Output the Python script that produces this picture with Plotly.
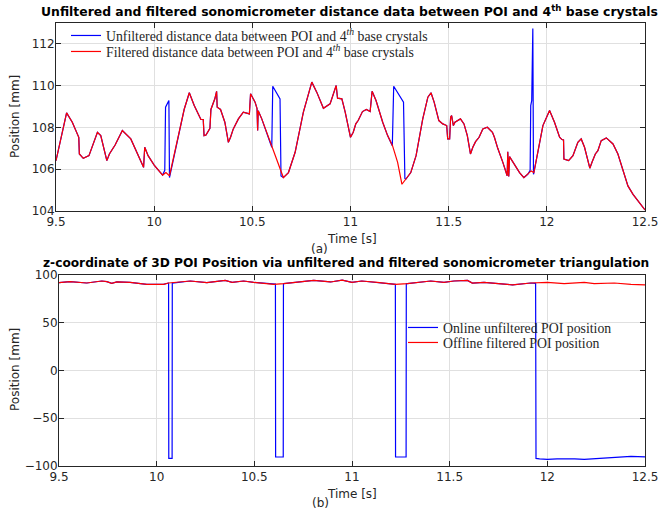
import plotly.graph_objects as go

# ---------------- panel (a): distance data ----------------
t_filt = [9.500, 9.554, 9.583, 9.609, 9.616, 9.619, 9.639, 9.668, 9.711, 9.728, 9.759, 9.772,
          9.787, 9.801, 9.838, 9.881, 9.946, 9.952, 9.969, 10.000, 10.043, 10.060, 10.078, 10.102,
          10.128, 10.153, 10.179, 10.204, 10.238, 10.250, 10.254, 10.264, 10.284, 10.289, 10.309,
          10.318, 10.321, 10.338, 10.360, 10.378, 10.389, 10.403, 10.429, 10.454, 10.485, 10.491,
          10.514, 10.524, 10.527, 10.530, 10.548, 10.573, 10.599, 10.621, 10.641, 10.658, 10.684,
          10.718, 10.760, 10.803, 10.828, 10.862, 10.896, 10.927, 10.934, 10.956, 10.973, 11.000,
          11.014, 11.027, 11.039, 11.061, 11.081, 11.100, 11.110, 11.130, 11.164, 11.189, 11.214,
          11.240, 11.262, 11.282, 11.307, 11.334, 11.368, 11.394, 11.410, 11.426, 11.450, 11.470,
          11.490, 11.495, 11.505, 11.510, 11.515, 11.524, 11.532, 11.560, 11.578, 11.595, 11.611,
          11.623, 11.637, 11.655, 11.674, 11.697, 11.723, 11.733, 11.750, 11.776, 11.793, 11.798,
          11.801, 11.806, 11.810, 11.835, 11.861, 11.883, 11.903, 11.920, 11.934, 11.954, 11.980,
          12.014, 12.039, 12.065, 12.077, 12.085, 12.087, 12.111, 12.133, 12.158, 12.175, 12.192,
          12.219, 12.230, 12.247, 12.260, 12.277, 12.303, 12.337, 12.362, 12.388, 12.413, 12.439,
          12.464, 12.495, 12.500]
d_filt = [106.41, 108.70, 108.25, 107.61, 107.53, 106.73, 106.52, 106.65, 107.77, 107.61, 106.41, 106.73,
          106.97, 107.16, 107.85, 107.45, 106.09, 107.05, 106.65, 106.20, 105.72, 105.84, 105.68, 106.65,
          107.77, 108.87, 109.66, 109.05, 108.38, 108.38, 107.61, 107.64, 107.96, 108.86, 109.37,
          109.73, 108.97, 108.86, 108.25, 107.29, 107.53, 107.93, 108.41, 108.73, 108.65, 109.61,
          109.21, 108.90, 107.85, 108.80, 108.41, 107.77, 107.05, 106.57, 106.00, 105.60, 105.84,
          106.81, 108.73, 110.17, 109.69, 108.92, 109.13, 110.01, 109.40, 109.37, 108.73, 107.53,
          107.77, 108.17, 108.33, 108.76, 108.86, 108.76, 109.73, 109.29, 108.25, 107.61, 107.13,
          106.33, 105.28, 105.52, 105.84, 106.65, 108.41, 109.45, 109.66, 109.21, 108.33, 108.17,
          108.09, 107.45, 107.45, 108.49, 108.57, 108.09, 108.25, 108.41, 108.17, 107.61, 106.73,
          107.05, 107.32, 107.53, 107.93, 108.01, 107.77, 107.53, 107.00, 106.33, 105.88, 105.69,
          106.84, 105.65, 106.60, 106.25, 105.84, 105.60, 105.76, 105.92, 105.84, 106.81, 108.09,
          108.81, 108.25, 107.53, 107.42, 107.40, 106.49, 106.41, 106.65, 107.29, 107.45, 107.05,
          106.05, 106.33, 106.73, 106.89, 107.37, 107.50, 107.21, 106.73, 106.00, 105.20, 104.80,
          104.48, 104.08, 104.05]

# unfiltered outlier segments (elsewhere unfiltered == filtered)
spike_t = [[10.054, 10.058, 10.068, 10.075, 10.078],
           [10.599, 10.604, 10.641, 10.646],
           [11.213, 11.220, 11.270, 11.277],
           [11.915, 11.918, 11.923, 11.9286, 11.932]]
spike_d = [[105.95, 108.97, 109.13, 109.29, 105.60],
           [107.05, 109.97, 109.37, 105.68],
           [107.13, 109.97, 109.21, 105.56],
           [105.95, 109.05, 109.29, 112.74, 105.76]]

# ---------------- panel (b): z-coordinate ----------------
t_zf = [9.500, 9.556, 9.642, 9.719, 9.745, 9.770, 9.796, 9.864, 9.950, 10.035, 10.060, 10.172,
        10.257, 10.351, 10.386, 10.445, 10.497, 10.600, 10.650, 10.804, 10.890, 10.950, 11.000,
        11.050, 11.129, 11.223, 11.283, 11.403, 11.471, 11.522, 11.591, 11.616, 11.676, 11.822,
        11.915, 12.000, 12.086, 12.189, 12.240, 12.343, 12.428, 12.500]
z_f = [92.0, 93.0, 91.6, 93.7, 93.0, 91.3, 92.7, 92.3, 90.2, 90.2, 91.6, 93.7,
       92.0, 94.4, 92.3, 93.7, 92.3, 90.2, 90.9, 94.4, 92.7, 94.6, 92.3,
       93.7, 92.3, 90.2, 90.9, 93.7, 92.3, 93.7, 94.4, 91.6, 92.3, 89.6,
       91.6, 92.3, 90.9, 92.3, 90.9, 91.6, 90.2, 89.6]

drop_t = [[10.061, 10.062, 10.079, 10.080],
          [10.608, 10.609, 10.648, 10.649],
          [11.222, 11.223, 11.277, 11.278],
          [11.940, 11.942, 11.960, 12.000, 12.050, 12.086, 12.140, 12.189, 12.240, 12.300,
           12.343, 12.428, 12.500]]
drop_z = [[91.5, -92.0, -92.0, 91.5],
          [90.4, -90.6, -90.6, 90.8],
          [90.2, -90.6, -90.6, 91.0],
          [91.3, -92.0, -92.5, -93.0, -92.6, -92.3, -92.6, -93.0, -92.3, -91.6,
           -90.9, -89.9, -90.4]]


def merge(base_t, base_v, seg_t, seg_v):
    pts = [(t, v) for t, v in zip(base_t, base_v)
           if not any(s[0] <= t <= s[-1] for s in seg_t)]
    for st, sv in zip(seg_t, seg_v):
        pts.extend(zip(st, sv))
    pts.sort()
    return [p[0] for p in pts], [p[1] for p in pts]


t_unf, d_unf = merge(t_filt, d_filt, spike_t, spike_d)
t_zu, z_u = merge(t_zf, z_f, drop_t, drop_z)

W, H = 660, 510
BLUE, RED = "#0000ff", "#ff0000"
AX = "#262626"
GRID = "#e0e0e0"
SANS = "DejaVu Sans"
SERIF = "Liberation Serif"
LEG_SIZE = 13.8

fig = go.Figure()
fig.add_trace(go.Scatter(x=t_unf, y=d_unf, mode="lines", line=dict(color=BLUE, width=1.2),
                         name="Unfiltered distance data between POI and 4<sup><i>th</i></sup> base crystals",
                         xaxis="x", yaxis="y", legend="legend"))
fig.add_trace(go.Scatter(x=t_filt, y=d_filt, mode="lines", line=dict(color=RED, width=1.2),
                         name="Filtered distance data between POI and 4<sup><i>th</i></sup> base crystals",
                         xaxis="x", yaxis="y", legend="legend3"))
fig.add_trace(go.Scatter(x=t_zu, y=z_u, mode="lines", line=dict(color=BLUE, width=1.2),
                         name="Online unfiltered POI position",
                         xaxis="x2", yaxis="y2", legend="legend2"))
fig.add_trace(go.Scatter(x=t_zf, y=z_f, mode="lines", line=dict(color=RED, width=1.2),
                         name="Offline filtered POI position",
                         xaxis="x2", yaxis="y2", legend="legend4"))


def px_x(p):
    return p / W


def px_y(p):
    return 1 - p / H


common = dict(showline=True, linecolor=AX, linewidth=1, mirror="ticks", ticks="inside",
              ticklen=5, tickcolor=AX, showgrid=True, gridcolor=GRID, gridwidth=1,
              zeroline=False, automargin=False,
              tickfont=dict(family=SANS, size=12, color=AX))


def leg(xp, yp):
    return dict(x=px_x(xp), y=px_y(yp), xanchor="left", yanchor="top",
                bgcolor="rgba(0,0,0,0)", borderwidth=0,
                font=dict(family=SERIF, size=LEG_SIZE, color=AX), tracegroupgap=0)


fig.update_layout(
    template="none",
    width=W, height=H, margin=dict(l=0, r=0, t=0, b=0, pad=0, autoexpand=False),
    paper_bgcolor="white", plot_bgcolor="white", showlegend=True,
    xaxis=dict(domain=[px_x(56), px_x(645)], range=[9.5, 12.5], tick0=9.5, dtick=0.5,
               anchor="y", ticklabelstandoff=0, **common),
    yaxis=dict(domain=[px_y(211), px_y(23)], range=[104, 113], tick0=104, dtick=2,
               anchor="x", ticklabelstandoff=-2, **common),
    xaxis2=dict(domain=[px_x(59), px_x(645)], range=[9.5, 12.5], tick0=9.5, dtick=0.5,
                anchor="y2", ticklabelstandoff=0, **common),
    yaxis2=dict(domain=[px_y(466), px_y(275)], range=[-100, 100], tick0=-100, dtick=50,
                anchor="x2", ticklabelstandoff=-2, **common),
    legend=leg(66, 20),
    legend3=leg(66, 36),
    legend2=leg(403, 312),
    legend4=leg(403, 327),
)

lab_font = dict(family=SANS, size=12, color=AX)
ann = [
    dict(text="<b>Unfiltered and filtered sonomicrometer distance data between POI and 4<sup>th</sup> base crystals</b>",
         x=px_x(349), y=px_y(11), font=dict(family=SANS, size=12.4, color="black")),
    dict(text="<b>z-coordinate of 3D POI Position via unfiltered and filtered sonomicrometer triangulation</b>",
         x=px_x(346), y=px_y(263), font=dict(family=SANS, size=12.2, color="black")),
    dict(text="Time [s]", x=px_x(352), y=px_y(239), font=lab_font),
    dict(text="(a)", x=px_x(319), y=px_y(249), font=lab_font),
    dict(text="Time [s]", x=px_x(352), y=px_y(494), font=lab_font),
    dict(text="(b)", x=px_x(320), y=px_y(503), font=lab_font),
    dict(text="Position [mm]", x=px_x(15), y=px_y(117), font=lab_font, textangle=-90),
    dict(text="Position [mm]", x=px_x(15), y=px_y(370), font=lab_font, textangle=-90),
]
for a in ann:
    a.update(xref="paper", yref="paper", showarrow=False, xanchor="center", yanchor="middle")
fig.update_layout(annotations=ann)

# let the 660x510 figure fill the window (no default 8 px page margin, no scrollbars)
fig.write_html("out.html",
               config={"displayModeBar": False},
               post_script="document.body.style.margin='0px';"
                           "document.body.style.overflow='hidden';")
